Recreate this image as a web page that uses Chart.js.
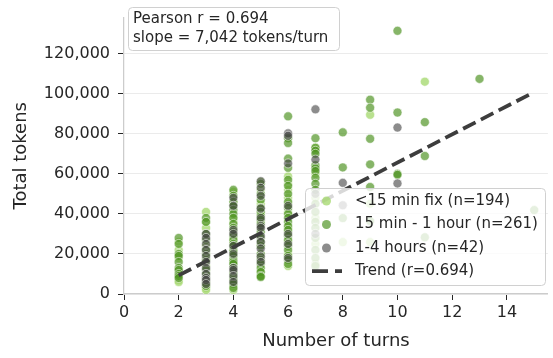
<!DOCTYPE html>
<html>
<head>
<meta charset="utf-8">
<script src="https://cdn.jsdelivr.net/npm/chart.js@4.4.0/dist/chart.umd.min.js"></script>
<style>
  html, body { margin: 0; padding: 0; background: #fff; }
</style>
</head>
<body>
<canvas id="turnsChart" width="553" height="358"></canvas>
<script>
// Tokens per session, grouped by number of turns ----------
var turnValues = [2, 3, 4, 5, 6, 7, 8, 9, 10, 11, 13, 15];

// one inner list per entry of turnValues
var quickFixTokens = [
    [26000, 22000, 18000, 11000, 9000, 7000, 6000],
    [41000, 36000, 33000, 24000, 18000, 14000, 8000, 5000, 3000, 2000],
    [51000, 45000, 38000, 36000, 28000, 26000, 20000, 14000, 6000, 4000, 2000],
    [56000, 52000, 45000, 40000, 36000, 33000, 25000, 18000, 11000, 9000],
    [58700, 55000, 52000, 48000, 45000, 41000, 33000, 31000, 26000, 20000, 14000],
    [73000, 60000, 48000, 38000, 25000, 15000],
    [25900],
    [89500, 45100, 25900],
    [],
    [106000],
    [],
    []
];
var mediumTokens = [
    [28000, 25000, 20000, 19000, 16000, 13000, 12000, 10000, 9000, 8000],
    [38000, 36000, 30000, 27000, 22000, 20000, 17000, 12000, 10000, 6000, 4000],
    [52000, 49000, 46000, 44000, 42000, 40000, 38000, 35000, 33000, 31000, 29000, 27000, 25000, 24000,
     22000, 21000, 19000, 17000, 16000, 15000, 13000, 11000, 10000, 8000, 7000, 5000, 3000],
    [55000, 50000, 47000, 43000, 41000, 39000, 37000, 35000, 31000, 28000, 26000, 24000, 20000, 17000,
     15000, 13000, 11000, 9000, 8500],
    [88700, 77800, 75400, 67600, 63000, 57000, 54000, 50000, 46000, 43000, 40000, 38000, 36000, 34000,
     32000, 29000, 27000, 24000, 22000, 19000, 17000, 15000],
    [77800, 73000, 71500, 70000, 64300, 62800, 61400, 58000, 55000, 52000, 45000, 41000, 36000, 33000,
     28000, 22000, 18000, 14000],
    [80700, 63200, 37900],
    [97000, 93000, 77500, 64700, 53400, 36400],
    [131400, 90600, 60000, 59500],
    [85800, 68900, 28300],
    [107400],
    [41900]
];
var longTokens = [
    [],
    [30000, 28000, 25000, 22000, 19000, 16000, 13000, 10000, 8000, 7000, 5000],
    [48000, 44000, 32000, 30000, 24000, 20000, 13000, 12000, 9000, 6000],
    [56300, 53000, 49000, 42700, 38000, 34000, 33000, 29000, 26000, 22700, 18700, 16000],
    [80200, 79000, 65200, 44000, 30000, 25000, 18000],
    [92200, 67100, 50000, 30000],
    [55500, 44300],
    [],
    [83100, 55200],
    [],
    [],
    []
];

var groupLabels = ["<15 min fix (n=194)", "15 min - 1 hour (n=261)", "1-4 hours (n=42)"];
var groupColors = ["rgba(161, 215, 106, 0.75)", "rgba(77, 146, 33, 0.68)", "rgba(64, 64, 64, 0.6)"];

var xTickValues = [0, 2, 4, 6, 8, 10, 12, 14];
var yTickValues = [0, 20000, 40000, 60000, 80000, 100000, 120000];

var pearsonR = 0.694;
var trendSlope = 7042;
var trendIntercept = -4800;
var trendRange = [2, 15];

// Turn the per-turn lists into {x, y} points
function toPoints(columns) {
    var points = [];
    columns.forEach(function (col, i) {
        col.forEach(function (v) {
            points.push({ x: turnValues[i], y: v });
        });
    });
    return points;
}

var trendPoints = trendRange.map(function (t) {
    return { x: t, y: trendIntercept + trendSlope * t };
});

var FONT = "'DejaVu Sans', sans-serif";
var TEXT = "#262626";

function scatterSet(label, columns, color, order) {
    return {
        type: 'scatter',
        label: label,
        data: toPoints(columns),
        backgroundColor: color,
        borderColor: "rgba(255, 255, 255, 0.9)",
        borderWidth: 0.6,
        pointRadius: 4.5,
        pointHoverRadius: 4.5,
        order: order
    };
}

// Legend box and stats box drawn on top of the plot
var boxesPlugin = {
    id: 'boxes',
    afterDatasetsDraw: function (chart) {
        var ctx = chart.ctx;
        ctx.save();

        function roundBox(x, y, w, h) {
            ctx.beginPath();
            ctx.roundRect(x, y, w, h, 4);
            ctx.fillStyle = "rgba(255, 255, 255, 0.8)";
            ctx.fill();
            ctx.strokeStyle = "#d0d0d0";
            ctx.lineWidth = 1;
            ctx.stroke();
        }

        // stats box
        roundBox(128.5, 7.5, 211, 43);
        ctx.fillStyle = TEXT;
        ctx.font = "15px " + FONT;
        ctx.textBaseline = "middle";
        ctx.textAlign = "left";
        ctx.fillText("Pearson r = " + pearsonR.toFixed(3), 133, 19.5);
        ctx.fillText("slope = " + trendSlope.toLocaleString('en-US') + " tokens/turn", 133, 38);

        // legend
        roundBox(305.5, 188.5, 240, 97);
        var rowY = [201, 224.5, 248, 271];
        groupLabels.forEach(function (label, i) {
            ctx.beginPath();
            ctx.arc(326.5, rowY[i], 4.5, 0, Math.PI * 2);
            ctx.fillStyle = groupColors[i];
            ctx.fill();
            ctx.fillStyle = TEXT;
            ctx.fillText(label, 355, rowY[i]);
        });
        ctx.strokeStyle = "#3d3d3d";
        ctx.lineWidth = 3.75;
        ctx.setLineDash([16, 7]);
        ctx.beginPath();
        ctx.moveTo(312, rowY[3]);
        ctx.lineTo(342, rowY[3]);
        ctx.stroke();
        ctx.setLineDash([]);
        ctx.fillStyle = TEXT;
        ctx.fillText("Trend (r=" + pearsonR.toFixed(3) + ")", 355, rowY[3]);

        ctx.restore();
    }
};

var ctx = document.getElementById("turnsChart").getContext("2d");

var turnsChart = new Chart(ctx, {
    type: 'scatter',
    data: {
        datasets: [
            {
                type: 'line',
                label: 'Trend',
                data: trendPoints,
                borderColor: "#3d3d3d",
                borderWidth: 3.75,
                borderDash: [14, 6],
                pointRadius: 0,
                fill: false,
                showLine: true,
                order: 0
            },
            scatterSet(groupLabels[2], longTokens, groupColors[2], 1),
            scatterSet(groupLabels[1], mediumTokens, groupColors[1], 2),
            scatterSet(groupLabels[0], quickFixTokens, groupColors[0], 3)
        ]
    },
    options: {
        responsive: false,
        animation: false,
        layout: { padding: { top: 6, right: 3, left: 0, bottom: 0 } },
        plugins: {
            legend: { display: false },
            tooltip: { enabled: false }
        },
        scales: {
            x: {
                type: 'linear',
                min: 0,
                max: 15.5,
                afterBuildTicks: function (scale) {
                    scale.ticks = xTickValues.map(function (v) { return { value: v }; });
                },
                ticks: {
                    color: TEXT,
                    font: { family: FONT, size: 16 },
                    padding: 3
                },
                grid: {
                    drawOnChartArea: false,
                    drawTicks: true,
                    tickColor: TEXT,
                    tickLength: 6
                },
                border: { color: "#cccccc", width: 1.25 },
                title: {
                    display: true,
                    text: "Number of turns",
                    color: TEXT,
                    font: { family: FONT, size: 18 },
                    padding: { top: 0, bottom: 6 }
                },
                afterFit: function (scale) { scale.height = 64; }
            },
            y: {
                type: 'linear',
                min: 0,
                max: 138000,
                afterBuildTicks: function (scale) {
                    scale.ticks = yTickValues.map(function (v) { return { value: v }; });
                },
                ticks: {
                    color: TEXT,
                    font: { family: FONT, size: 16 },
                    padding: 8,
                    callback: function (v) { return v.toLocaleString('en-US'); }
                },
                grid: {
                    color: "#ebebeb",
                    lineWidth: 1,
                    drawTicks: true,
                    tickColor: TEXT,
                    tickLength: 6
                },
                border: { color: "#cccccc", width: 1.25 },
                title: {
                    display: true,
                    text: "Total tokens",
                    color: TEXT,
                    font: { family: FONT, size: 18 },
                    padding: { top: 11, bottom: 0 }
                },
                afterFit: function (scale) { scale.width = 124; }
            }
        }
    },
    plugins: [boxesPlugin]
});
</script>
</body>
</html>
